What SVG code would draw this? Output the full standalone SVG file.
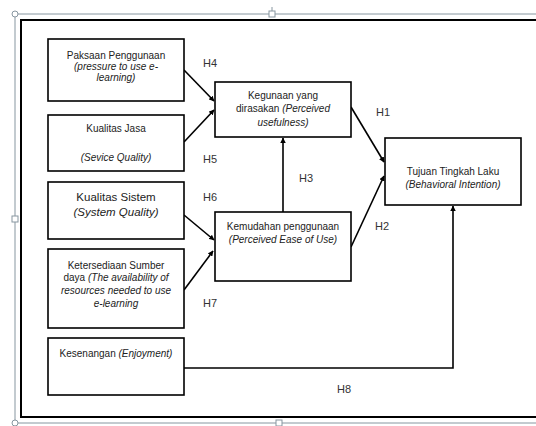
<svg xmlns="http://www.w3.org/2000/svg" width="536" height="426" viewBox="0 0 536 426">
<defs>
<style>
.frame{fill:none;stroke:#000;stroke-width:2}
.sel{fill:none;stroke:#8796a0;stroke-width:1}
.h{fill:#fff;stroke:#8796a0;stroke-width:1}
.box{fill:#fff;stroke:#000;stroke-width:1.6}
.ln{fill:none;stroke:#000;stroke-width:1.6}
text{font-family:"Liberation Sans",Arial,sans-serif;font-size:10px;fill:#222;text-anchor:middle}
.i{font-style:italic}
.lb{font-size:11px;text-anchor:start;fill:#333}
.big{font-size:11.5px}
</style>
<marker id="ah" viewBox="0 0 10 10" refX="9" refY="5" markerWidth="5.5" markerHeight="5.5" orient="auto" markerUnits="userSpaceOnUse">
<path d="M0,0 L10,5 L0,10 z" fill="#000"/>
</marker>
</defs>
<rect width="536" height="426" fill="#fff"/>
<g id="selection">
<path class="sel" d="M536,14 H15 V423 H536"/>
<circle class="h" cx="15" cy="14" r="3"/>
<circle class="h" cx="15" cy="423" r="3"/>
<line class="sel" x1="272" y1="7" x2="272" y2="11"/>
<rect class="h" x="269" y="11" width="6" height="6"/>
<rect class="h" x="12" y="216" width="6" height="6"/>
<rect class="h" x="276" y="420" width="6" height="6"/>
</g>
<path class="frame" d="M538,20 H21 V417 H538"/>
<g id="connectors">
<line class="ln" x1="184" y1="70" x2="214" y2="101" marker-end="url(#ah)"/>
<line class="ln" x1="184" y1="142" x2="214" y2="110" marker-end="url(#ah)"/>
<line class="ln" x1="184" y1="215" x2="214" y2="240" marker-end="url(#ah)"/>
<line class="ln" x1="184" y1="290" x2="213" y2="251" marker-end="url(#ah)"/>
<line class="ln" x1="283" y1="212" x2="283" y2="138" marker-end="url(#ah)"/>
<line class="ln" x1="351" y1="107" x2="384" y2="162" marker-end="url(#ah)"/>
<line class="ln" x1="351" y1="247" x2="384" y2="176" marker-end="url(#ah)"/>
<path class="ln" d="M184,368 H453 V206" marker-end="url(#ah)"/>
</g>
<g id="paksaan">
<rect class="box" x="48" y="39" width="136" height="62"/>
<text x="116" y="59">Paksaan Penggunaan</text>
<text class="i" x="116" y="70">(pressure to use e-</text>
<text class="i" x="116" y="81">learning)</text>
</g>
<g id="kualitas-jasa">
<rect class="box" x="48" y="115" width="136" height="56"/>
<text x="116" y="132">Kualitas Jasa</text>
<text class="i" x="116" y="161">(Sevice Quality)</text>
</g>
<g id="kualitas-sistem">
<rect class="box" x="48" y="182" width="136" height="57"/>
<text class="big" x="116" y="201">Kualitas Sistem</text>
<text class="big i" x="116" y="216">(System Quality)</text>
</g>
<g id="ketersediaan">
<rect class="box" x="48" y="249" width="136" height="79"/>
<text x="116" y="269">Ketersediaan Sumber</text>
<text x="116" y="281">daya <tspan class="i">(The availability of</tspan></text>
<text class="i" x="116" y="294">resources needed to use</text>
<text class="i" x="116" y="307">e-learning</text>
</g>
<g id="kesenangan">
<rect class="box" x="48" y="338" width="136" height="57"/>
<text x="116" y="357">Kesenangan <tspan class="i">(Enjoyment)</tspan></text>
</g>
<g id="kegunaan">
<rect class="box" x="215" y="82" width="136" height="55"/>
<text x="283" y="99">Kegunaan yang</text>
<text x="283" y="112">dirasakan <tspan class="i">(Perceived</tspan></text>
<text class="i" x="283" y="126">usefulness)</text>
</g>
<g id="kemudahan">
<rect class="box" x="215" y="212" width="136" height="69"/>
<text x="283" y="230">Kemudahan penggunaan</text>
<text class="i" x="283" y="243">(Perceived Ease of Use)</text>
</g>
<g id="tujuan">
<rect class="box" x="385" y="138" width="136" height="67"/>
<text x="453" y="175">Tujuan Tingkah Laku</text>
<text class="i" x="453" y="188">(Behavioral Intention)</text>
</g>
<g id="labels">
<text class="lb" x="203" y="67">H4</text>
<text class="lb" x="203" y="163">H5</text>
<text class="lb" x="203" y="201">H6</text>
<text class="lb" x="203" y="307">H7</text>
<text class="lb" x="376" y="116">H1</text>
<text class="lb" x="375" y="230">H2</text>
<text class="lb" x="299" y="182">H3</text>
<text class="lb" x="337" y="393">H8</text>
</g>
</svg>
